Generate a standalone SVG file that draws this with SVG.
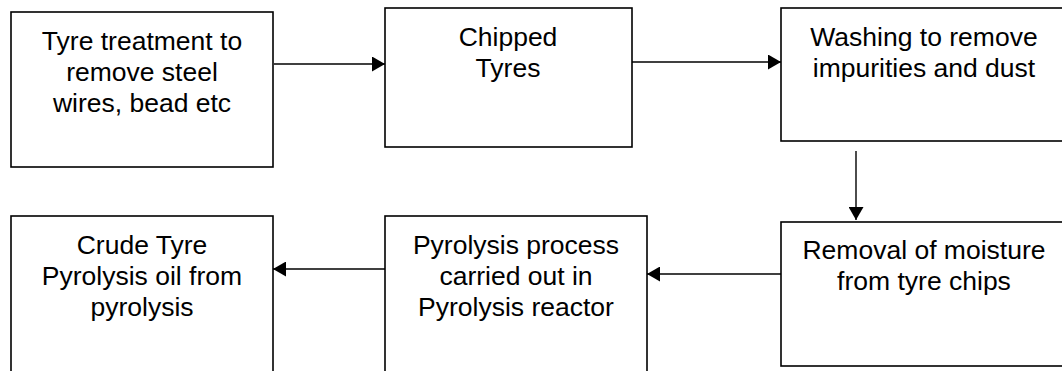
<svg xmlns="http://www.w3.org/2000/svg" width="1062" height="371" viewBox="0 0 1062 371">
<style>
.box{fill:#fff;stroke:#000;stroke-width:1.6}
.lbl{font-family:"Liberation Sans",Arial,sans-serif;font-size:26.5px;fill:#000;text-anchor:middle}
.con{stroke:#000;stroke-width:1.4;fill:none;marker-end:url(#ah)}
</style>
<defs>
<marker id="ah" viewBox="0 0 13 15" refX="13" refY="7.5" markerWidth="13" markerHeight="15" markerUnits="userSpaceOnUse" orient="auto">
<path d="M0,0 L13,7.5 L0,15 z" fill="#000"/>
</marker>
</defs>
<rect width="1062" height="371" fill="#fff"/>
<g id="n1"><rect class="box" x="11" y="12" width="262" height="155"/>
<text class="lbl" x="142" y="50">Tyre treatment to</text>
<text class="lbl" x="142" y="81">remove steel</text>
<text class="lbl" x="142" y="112">wires, bead etc</text></g>
<g id="n2"><rect class="box" x="385" y="8" width="247" height="139"/>
<text class="lbl" x="508" y="46">Chipped</text>
<text class="lbl" x="508" y="77">Tyres</text></g>
<g id="n3"><rect class="box" x="781" y="8" width="290" height="133"/>
<text class="lbl" x="924" y="46">Washing to remove</text>
<text class="lbl" x="924" y="77">impurities and dust</text></g>
<g id="n4"><rect class="box" x="781" y="222" width="290" height="144"/>
<text class="lbl" x="924" y="259">Removal of moisture</text>
<text class="lbl" x="924" y="290">from tyre chips</text></g>
<g id="n5"><rect class="box" x="385" y="216" width="262" height="170"/>
<text class="lbl" x="516" y="254">Pyrolysis process</text>
<text class="lbl" x="516" y="285">carried out in</text>
<text class="lbl" x="516" y="316">Pyrolysis reactor</text></g>
<g id="n6"><rect class="box" x="11" y="216" width="262" height="170"/>
<text class="lbl" x="142" y="254">Crude Tyre</text>
<text class="lbl" x="142" y="285">Pyrolysis oil from</text>
<text class="lbl" x="142" y="316">pyrolysis</text></g>
<g id="connectors">
<line class="con" x1="274" y1="64" x2="385" y2="64"/>
<line class="con" x1="632" y1="62" x2="781" y2="62"/>
<line class="con" x1="856" y1="151" x2="856" y2="220"/>
<line class="con" x1="781" y1="274" x2="647" y2="274"/>
<line class="con" x1="385" y1="269" x2="273" y2="269"/>
</g>
</svg>
